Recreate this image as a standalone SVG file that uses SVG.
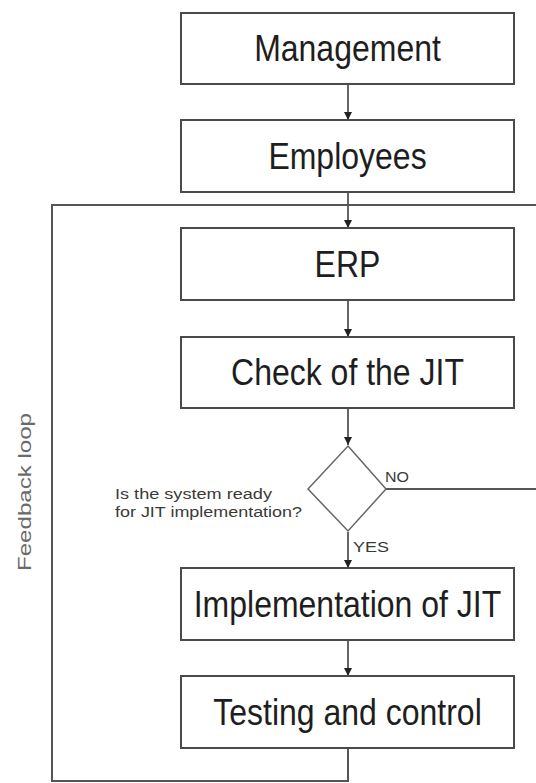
<svg xmlns="http://www.w3.org/2000/svg" width="536" height="783" viewBox="0 0 536 783">
  <style>
    .box { fill: #ffffff; stroke: #4a4a4a; stroke-width: 2; }
    .lbl { font-family: "Liberation Sans", Arial, sans-serif; font-size: 32px; fill: #1e1e1e; text-anchor: middle; }
    .small { font-family: "Liberation Sans", Arial, sans-serif; fill: #3a3a3a; }
    .line { fill: none; stroke: #555555; stroke-width: 2; }
    .arrow { fill: none; stroke: #333333; stroke-width: 1.5; marker-end: url(#ah); }
  </style>
  <defs>
    <marker id="ah" viewBox="0 0 10 10" refX="10" refY="5" markerWidth="8" markerHeight="8" markerUnits="userSpaceOnUse" orient="auto">
      <path d="M0,0 L10,5 L0,10 z" fill="#222222"/>
    </marker>
  </defs>
  <rect width="536" height="783" fill="#ffffff"/>

  <g id="connectors">
    <line class="arrow" x1="348" y1="84" x2="348" y2="120"/>
    <line class="arrow" x1="348" y1="192" x2="348" y2="228"/>
    <line class="arrow" x1="348" y1="300" x2="348" y2="337"/>
    <line class="arrow" x1="348" y1="408" x2="348" y2="445"/>
    <line class="arrow" x1="348" y1="532" x2="348" y2="568"/>
    <line class="arrow" x1="348" y1="640" x2="348" y2="676"/>
    <polyline class="line" points="348,748 348,781 52,781 52,205 536,205"/>
    <line class="line" x1="386" y1="489" x2="536" y2="489"/>
  </g>

  <g id="management">
    <rect class="box" x="181" y="13" width="333" height="71"/>
    <text class="lbl" transform="translate(347.5,61) scale(1,1.15)">Management</text>
  </g>
  <g id="employees">
    <rect class="box" x="181" y="120" width="333" height="72"/>
    <text class="lbl" transform="translate(347.5,168.5) scale(1,1.15)">Employees</text>
  </g>
  <g id="erp">
    <rect class="box" x="181" y="228" width="333" height="72"/>
    <text class="lbl" transform="translate(347.5,276.5) scale(1,1.15)">ERP</text>
  </g>
  <g id="check">
    <rect class="box" x="181" y="337" width="333" height="71"/>
    <text class="lbl" transform="translate(347.5,384.5) scale(1,1.15)">Check of the JIT</text>
  </g>
  <g id="decision">
    <polygon class="box" points="348,446 386,489 348,531 308,489" style="stroke:#666666;stroke-width:1.5"/>
    <text class="small" x="115" y="499" font-size="14" textLength="157" lengthAdjust="spacingAndGlyphs">Is the system ready</text>
    <text class="small" x="115" y="517" font-size="14" textLength="187" lengthAdjust="spacingAndGlyphs">for JIT implementation?</text>
    <text class="small" x="385" y="482" font-size="15" textLength="24" lengthAdjust="spacingAndGlyphs">NO</text>
    <text class="small" x="353" y="552" font-size="15" textLength="36" lengthAdjust="spacingAndGlyphs">YES</text>
  </g>
  <g id="implementation">
    <rect class="box" x="181" y="568" width="333" height="72"/>
    <text class="lbl" transform="translate(347.5,616.5) scale(1,1.15)">Implementation of JIT</text>
  </g>
  <g id="testing">
    <rect class="box" x="181" y="676" width="333" height="72"/>
    <text class="lbl" transform="translate(347.5,724.5) scale(1,1.15)">Testing and control</text>
  </g>
  <g id="feedback-label">
    <text class="small" transform="translate(31,492) rotate(-90)" text-anchor="middle" font-size="19" textLength="158" lengthAdjust="spacingAndGlyphs" style="fill:#6a6a6a">Feedback loop</text>
  </g>
</svg>
